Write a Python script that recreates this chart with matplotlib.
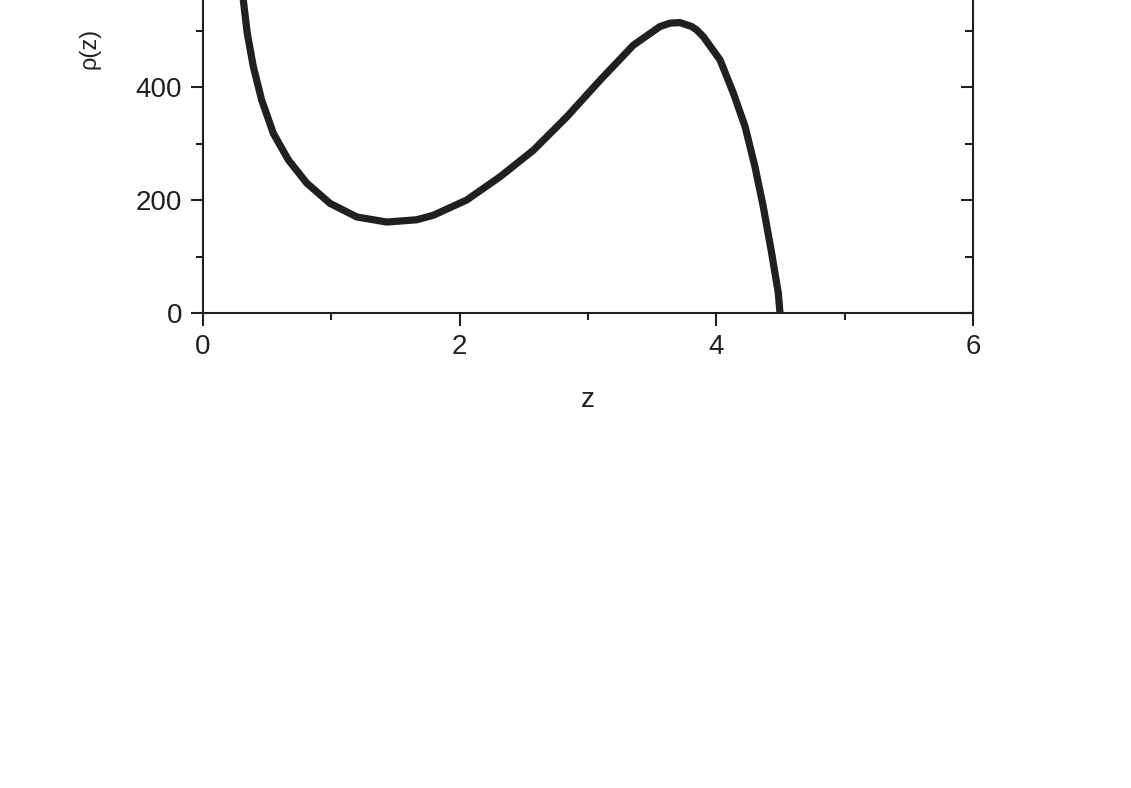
import matplotlib.pyplot as plt
from matplotlib.ticker import MultipleLocator

plt.rcParams['font.family'] = ['Liberation Sans', 'DejaVu Sans']

# values (upper part is cut off in the original)
z = [0.290, 0.314, 0.345, 0.392, 0.457, 0.548, 0.665, 0.808, 0.990, 1.198, 1.431,
     1.665, 1.795, 2.055, 2.314, 2.574, 2.834, 3.094, 3.353, 3.561, 3.639, 3.717,
     3.808, 3.847, 3.899, 4.029, 4.133, 4.224, 4.301, 4.366, 4.431, 4.483, 4.496]
rho = [600, 554, 495, 436, 377, 318, 271, 230, 194, 170, 161,
       165, 173, 200, 241, 288, 347, 412, 474, 507, 513, 514,
       507, 501, 489, 448, 389, 330, 259, 188, 106, 35, 0]

col = '#231f20'
ymax = 560

fig = plt.figure(figsize=(11.31, 7.88), dpi=100)
# axes reach just past the top edge: the top is clipped like in the reference
h = ymax * 0.565 / 788
ax = fig.add_axes([203 / 1131, 1 - 313 / 788, 770 / 1131, h])

ax.plot(z, rho, color=col, lw=5.2, solid_capstyle='butt', solid_joinstyle='round')
ax.set_xlim(0, 6)
ax.set_ylim(0, ymax)

ax.xaxis.set_major_locator(MultipleLocator(2))
ax.xaxis.set_minor_locator(MultipleLocator(1))
ax.yaxis.set_major_locator(MultipleLocator(200))
ax.yaxis.set_minor_locator(MultipleLocator(100))

for s in ax.spines.values():
    s.set_linewidth(1.5)
    s.set_color(col)

ax.tick_params(which='both', direction='out', color=col, width=1.5,
               labelsize=20, labelcolor=col, top=False, right=False)
ax.tick_params(which='major', length=9, pad=6)
ax.tick_params(which='minor', length=5)

ax2 = ax.twinx()
ax2.set_ylim(0, ymax)
ax2.yaxis.set_major_locator(MultipleLocator(200))
ax2.yaxis.set_minor_locator(MultipleLocator(100))
ax2.tick_params(which='both', direction='in', color=col, width=1.5, labelright=False)
ax2.tick_params(which='major', length=9)
ax2.tick_params(which='minor', length=6)
for s in ax2.spines.values():
    s.set_visible(False)

ax.set_xlabel('z', fontsize=20, color=col)
ax.xaxis.set_label_coords(0.5, -0.234)
ax.set_ylabel('ρ(z)', fontsize=17, color=col)
ax.yaxis.set_label_coords(-0.1325, 0.835)

fig.savefig('out.png', dpi=100)
